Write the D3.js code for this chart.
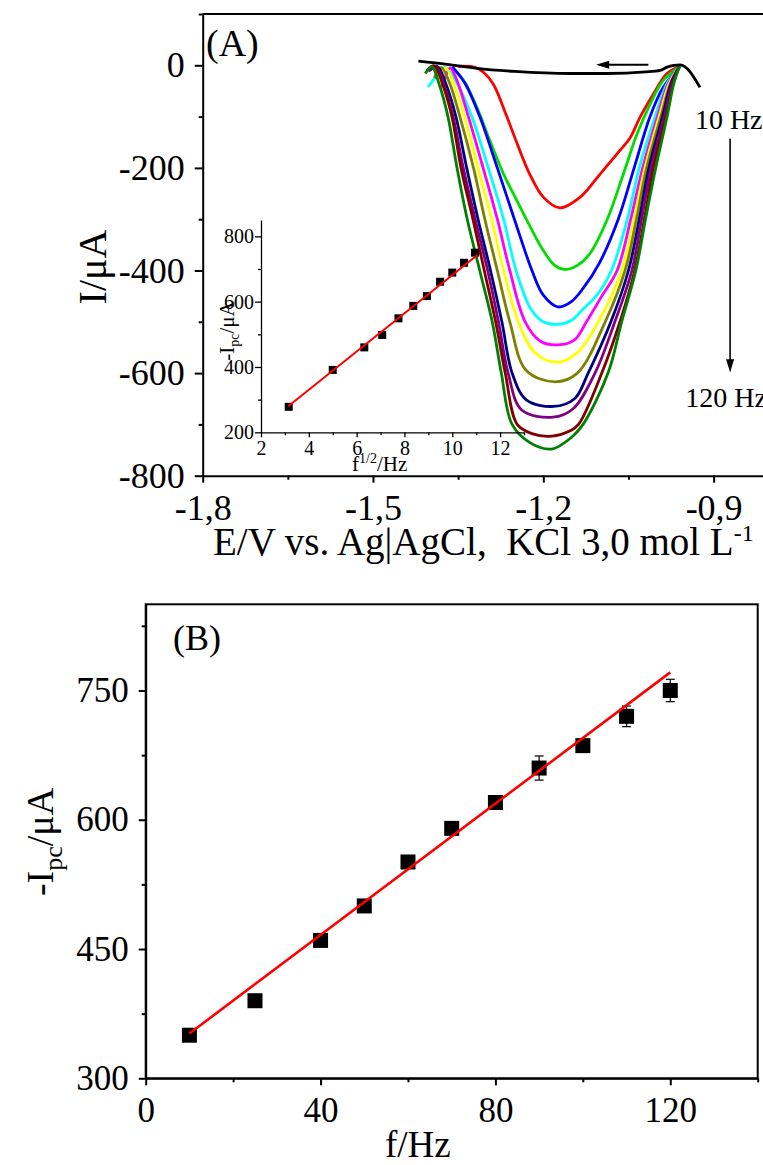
<!DOCTYPE html>
<html lang="en">
<head>
  <meta charset="UTF-8">
  <title>SWV frequency study</title>
  <script src="https://d3js.org/d3.v7.min.js"></script>
  <style>
    body { background: #fff; margin: 0; }
    svg { display: block; font-family: "Liberation Serif", "Times New Roman", serif; }
    .axis path, .axis line { stroke: #000; stroke-width: 2; }
    .axis text { fill: #000; font-family: "Liberation Serif", "Times New Roman", serif; }
    .minor path { display: none; }
  </style>
</head>
<body>
<svg width="763" height="1165"></svg>
<script>
// ---- data ----
const freqs = [10, 25, 40, 50, 60, 70, 80, 90, 100, 110, 120];
const curveColors = ["#ff0000", "#00dd00", "#0000ff", "#00ffff", "#ff00ff", "#ffff00",
                     "#808000", "#000080", "#800080", "#800000", "#008000"];

// voltammograms, [E (V), I (uA)]
const c10 = [[-1.350,-2],[-1.320,-4],[-1.305,-14],[-1.288,-37],[-1.266,-95],[-1.246,-153],[-1.224,-212],[-1.200,-257],[-1.171,-278],[-1.135,-257],[-1.100,-212],[-1.065,-166],[-1.047,-141],[-1.030,-102],[-1.006,-56],[-0.983,-17],[-0.960,-2]];
const c25 = [[-1.362,-4],[-1.340,-30],[-1.317,-82],[-1.294,-147],[-1.270,-212],[-1.247,-263],[-1.223,-315],[-1.200,-361],[-1.180,-390],[-1.162,-398],[-1.140,-390],[-1.118,-367],[-1.088,-302],[-1.059,-212],[-1.035,-134],[-1.012,-76],[-0.989,-30],[-0.960,-2]];
const c40 = [[-1.360,-3],[-1.338,-35],[-1.312,-100],[-1.281,-200],[-1.251,-300],[-1.220,-400],[-1.200,-448],[-1.174,-471],[-1.150,-460],[-1.130,-435],[-1.101,-385],[-1.068,-300],[-1.040,-200],[-1.012,-100],[-0.990,-45],[-0.960,-2]];
const c50 = [[-1.403,-42],[-1.388,-21],[-1.372,-4],[-1.352,-35],[-1.326,-100],[-1.297,-200],[-1.270,-300],[-1.248,-400],[-1.222,-475],[-1.200,-500],[-1.174,-505],[-1.150,-497],[-1.130,-475],[-1.107,-450],[-1.080,-400],[-1.052,-300],[-1.031,-200],[-1.003,-100],[-0.982,-35],[-0.960,-2]];
const c60 = [[-1.379,-43],[-1.373,-24],[-1.364,-5],[-1.352,-30],[-1.332,-100],[-1.306,-200],[-1.281,-300],[-1.259,-400],[-1.232,-500],[-1.205,-538],[-1.174,-545],[-1.145,-535],[-1.124,-500],[-1.097,-450],[-1.070,-400],[-1.046,-300],[-1.025,-200],[-0.999,-100],[-0.980,-35],[-0.960,-2]];
const c70 = [[-1.385,-25],[-1.372,-5],[-1.358,-35],[-1.339,-100],[-1.315,-200],[-1.291,-300],[-1.270,-400],[-1.244,-500],[-1.215,-560],[-1.176,-579],[-1.140,-560],[-1.103,-500],[-1.062,-400],[-1.040,-300],[-1.021,-200],[-0.996,-100],[-0.978,-35],[-0.960,-2]];
const c80 = [[-1.392,-25],[-1.380,-4],[-1.365,-35],[-1.347,-100],[-1.323,-200],[-1.303,-300],[-1.281,-400],[-1.259,-500],[-1.230,-595],[-1.179,-617],[-1.140,-600],[-1.091,-500],[-1.056,-400],[-1.036,-300],[-1.018,-200],[-0.993,-100],[-0.976,-35],[-0.960,-2]];
const c90 = [[-1.400,-10],[-1.387,-2],[-1.372,-35],[-1.354,-100],[-1.335,-200],[-1.315,-300],[-1.293,-400],[-1.273,-500],[-1.255,-600],[-1.230,-652],[-1.182,-665],[-1.145,-650],[-1.121,-600],[-1.081,-500],[-1.050,-400],[-1.031,-300],[-1.014,-200],[-0.990,-100],[-0.975,-35],[-0.960,-2]];
const c100 = [[-1.402,-12],[-1.390,-2],[-1.376,-35],[-1.359,-100],[-1.341,-200],[-1.320,-300],[-1.298,-400],[-1.279,-500],[-1.262,-600],[-1.238,-672],[-1.183,-686],[-1.148,-670],[-1.109,-600],[-1.074,-500],[-1.044,-400],[-1.027,-300],[-1.010,-200],[-0.987,-100],[-0.973,-35],[-0.960,-2]];
const c110 = [[-1.405,-10],[-1.392,-1],[-1.378,-35],[-1.361,-100],[-1.345,-200],[-1.324,-300],[-1.304,-400],[-1.284,-500],[-1.267,-600],[-1.246,-700],[-1.220,-718],[-1.185,-723],[-1.152,-712],[-1.138,-700],[-1.097,-600],[-1.065,-500],[-1.039,-400],[-1.022,-300],[-1.006,-200],[-0.984,-100],[-0.971,-35],[-0.960,-2]];
const c120 = [[-1.408,-16],[-1.396,-3],[-1.384,-35],[-1.368,-100],[-1.352,-200],[-1.334,-300],[-1.312,-400],[-1.290,-500],[-1.274,-600],[-1.255,-700],[-1.223,-736],[-1.185,-748],[-1.150,-725],[-1.130,-700],[-1.086,-600],[-1.062,-500],[-1.037,-400],[-1.020,-300],[-1.002,-200],[-0.982,-100],[-0.970,-35],[-0.960,-2]];
const curves = [c10, c25, c40, c50, c60, c70, c80, c90, c100, c110, c120];

// black background / return scan
const baseCurve = [[-1.420,8],[-1.370,2],[-1.317,-6],[-1.250,-12],[-1.153,-16],[-1.088,-16],[-1.020,-13],[-0.994,-10],[-0.983,-4],[-0.970,0],[-0.959,1],[-0.924,-43]];

// inset: -Ipc vs f^1/2
const sqrtF = [3.16, 5.00, 6.32, 7.07, 7.75, 8.37, 8.94, 9.49, 10.00, 10.49, 10.95];
const ipcInset = [278, 391, 460, 498, 549, 587, 617, 661, 689, 719, 750];
const fitInset = [[3.14, 280], [11.05, 743]];

// panel B: -Ipc vs f
const ipcB = [350, 390, 460, 500, 551, 590, 620, 660, 686, 720, 750];
const errB = [3, 3, 3, 3, 4, 4, 3, 14, 4, 12, 13];
const fitB = [[10, 352], [120, 771]];

// tick values
const xTicksA = [-1.8, -1.5, -1.2, -0.9], xMinorA = [-1.65, -1.35, -1.05, -0.75];
const yTicksA = [0, -200, -400, -600, -800], yMinorA = [100, -100, -300, -500, -700];
const xTicksIn = [2, 4, 6, 8, 10, 12], xMinorIn = [3, 5, 7, 9, 11, 13];
const yTicksIn = [200, 400, 600, 800], yMinorIn = [300, 500, 700];
const xTicksB = [0, 40, 80, 120], xMinorB = [20, 60, 100, 140];
const yTicksB = [300, 450, 600, 750], yMinorB = [375, 525, 675, 825];

const svg = d3.select("svg");
const comma = d => (d < 0 ? "-" : "") + Math.abs(d).toFixed(1).replace(".", ",");
const intFmt = d => (d < 0 ? "-" : "") + Math.abs(d);

function addAxis(g, axis, cls, fontSize) {
  g.attr("class", "axis " + (cls || "")).call(axis);
  g.selectAll("text").style("font-size", fontSize + "px");
  return g;
}

// ================= Panel A =================
const xA = d3.scaleLinear().domain([-1.8, -0.8]).range([202.7, 770.4]);
const yA = d3.scaleLinear().domain([-800, 100]).range([475.7, 14]);

// frame top
svg.append("line").attr("x1", xA(-1.8)).attr("x2", xA(-0.8))
  .attr("y1", yA(100)).attr("y2", yA(100)).attr("stroke", "#000").attr("stroke-width", 2);

addAxis(svg.append("g").attr("transform", `translate(0,${yA(-800)})`),
  d3.axisBottom(xA).tickValues(xTicksA).tickFormat(comma).tickSize(7).tickSizeOuter(0).tickPadding(12), "", 36);
addAxis(svg.append("g").attr("transform", `translate(0,${yA(-800)})`),
  d3.axisBottom(xA).tickValues(xMinorA).tickFormat("").tickSize(4), "minor", 1);
addAxis(svg.append("g").attr("transform", `translate(${xA(-1.8)},0)`),
  d3.axisLeft(yA).tickValues(yTicksA).tickFormat(intFmt).tickSize(8).tickSizeOuter(0).tickPadding(10), "", 36);
addAxis(svg.append("g").attr("transform", `translate(${xA(-1.8)},0)`),
  d3.axisLeft(yA).tickValues(yMinorA).tickFormat("").tickSize(4), "minor", 1);

// axis titles
svg.append("text").attr("transform", "translate(106,267) rotate(-90)")
  .attr("text-anchor", "middle").style("font-size", "40px").text("I/μA");
const xt = svg.append("text").attr("x", 213).attr("y", 555)
  .style("font-size", "39px").style("white-space", "pre");
xt.append("tspan").text("E/V vs. Ag|AgCl,  KCl 3,0 mol L");
xt.append("tspan").attr("dy", -14).style("font-size", "24px").text("-1");

svg.append("text").attr("x", 206).attr("y", 56).style("font-size", "38px").text("(A)");

// voltammograms
const lineA = d3.line().x(d => xA(d[0])).y(d => yA(d[1])).curve(d3.curveCatmullRom.alpha(0.5));
svg.append("g").selectAll("path").data(curves).join("path")
  .attr("d", lineA)
  .attr("fill", "none")
  .attr("stroke", (d, i) => curveColors[i])
  .attr("stroke-width", 2.8);

svg.append("path").datum(baseCurve)
  .attr("d", d3.line().x(d => xA(d[0])).y(d => yA(d[1])).curve(d3.curveMonotoneX))
  .attr("fill", "none").attr("stroke", "#000").attr("stroke-width", 2.8);

// scan direction arrow
const arY = yA(1);
svg.append("line").attr("x1", xA(-1.015)).attr("x2", xA(-1.085))
  .attr("y1", arY).attr("y2", arY).attr("stroke", "#000").attr("stroke-width", 2);
svg.append("path")
  .attr("d", `M${xA(-1.107)},${arY} L${xA(-1.084)},${arY - 4} L${xA(-1.084)},${arY + 4} Z`)
  .attr("fill", "#000");

// frequency arrow + labels
const fx = xA(-0.871);
svg.append("line").attr("x1", fx).attr("x2", fx)
  .attr("y1", yA(-143)).attr("y2", yA(-575)).attr("stroke", "#000").attr("stroke-width", 1.6);
svg.append("path")
  .attr("d", `M${fx},${yA(-599)} L${fx - 4},${yA(-573)} L${fx + 4},${yA(-573)} Z`)
  .attr("fill", "#000");
svg.append("text").attr("x", xA(-0.933)).attr("y", yA(-124)).style("font-size", "28px")
  .text(freqs[0] + " Hz");
svg.append("text").attr("x", xA(-0.950)).attr("y", yA(-667)).style("font-size", "28px")
  .text(freqs[freqs.length - 1] + " Hz");

// ================= Inset =================
const xIn = d3.scaleLinear().domain([2, 13]).range([261, 524]);
const yIn = d3.scaleLinear().domain([200, 850]).range([432.3, 220]);

const inset = svg.append("g");
addAxis(inset.append("g").attr("transform", `translate(0,${yIn(200)})`),
  d3.axisBottom(xIn).tickValues(xTicksIn).tickSize(5).tickSizeOuter(0).tickPadding(4), "", 20)
  .selectAll("path, line").style("stroke-width", 1.3);
addAxis(inset.append("g").attr("transform", `translate(0,${yIn(200)})`),
  d3.axisBottom(xIn).tickValues(xMinorIn).tickFormat("").tickSize(3), "minor", 1)
  .selectAll("line").style("stroke-width", 1.3);
addAxis(inset.append("g").attr("transform", `translate(${xIn(2)},0)`),
  d3.axisLeft(yIn).tickValues(yTicksIn).tickSize(6).tickSizeOuter(0).tickPadding(1), "", 20)
  .selectAll("path, line").style("stroke-width", 1.3);
addAxis(inset.append("g").attr("transform", `translate(${xIn(2)},0)`),
  d3.axisLeft(yIn).tickValues(yMinorIn).tickFormat("").tickSize(3), "minor", 1)
  .selectAll("line").style("stroke-width", 1.3);

inset.selectAll("rect.pt").data(sqrtF).join("rect")
  .attr("x", d => xIn(d) - 4).attr("y", (d, i) => yIn(ipcInset[i]) - 4)
  .attr("width", 8).attr("height", 8).attr("fill", "#000");
inset.append("path").datum(fitInset)
  .attr("d", d3.line().x(d => xIn(d[0])).y(d => yIn(d[1])))
  .attr("stroke", "#ff0000").attr("stroke-width", 2).attr("fill", "none");

const it = inset.append("text").attr("x", 352).attr("y", 471).style("font-size", "21px");
it.append("tspan").text("f");
it.append("tspan").attr("dy", -8).style("font-size", "14px").text("1/2");
it.append("tspan").attr("dy", 8).text("/Hz");

const iy = inset.append("text").attr("transform", "translate(234,331) rotate(-90)")
  .attr("text-anchor", "middle").style("font-size", "21px");
iy.append("tspan").text("-I");
iy.append("tspan").attr("dy", 5).style("font-size", "14px").text("pc");
iy.append("tspan").attr("dy", -5).text("/μA");

// ================= Panel B =================
const xB = d3.scaleLinear().domain([0, 140]).range([145.7, 757.7]);
const yB = d3.scaleLinear().domain([300, 850]).range([1078.3, 604.3]);

svg.append("rect").attr("x", xB(0)).attr("y", yB(850))
  .attr("width", xB(140) - xB(0)).attr("height", yB(300) - yB(850))
  .attr("fill", "none").attr("stroke", "#000").attr("stroke-width", 2);

addAxis(svg.append("g").attr("transform", `translate(0,${yB(300)})`),
  d3.axisBottom(xB).tickValues(xTicksB).tickSize(7).tickSizeOuter(0).tickPadding(11.5), "", 35);
addAxis(svg.append("g").attr("transform", `translate(0,${yB(300)})`),
  d3.axisBottom(xB).tickValues(xMinorB).tickFormat("").tickSize(4), "minor", 1);
addAxis(svg.append("g").attr("transform", `translate(${xB(0)},0)`),
  d3.axisLeft(yB).tickValues(yTicksB).tickSize(7).tickSizeOuter(0).tickPadding(10), "", 35);
addAxis(svg.append("g").attr("transform", `translate(${xB(0)},0)`),
  d3.axisLeft(yB).tickValues(yMinorB).tickFormat("").tickSize(4), "minor", 1);

svg.append("text").attr("x", 173).attr("y", 650).style("font-size", "36px").text("(B)");
svg.append("text").attr("x", 385).attr("y", 1157).style("font-size", "37px").text("f/Hz");

const by = svg.append("text").attr("transform", "translate(53,842) rotate(-90)")
  .attr("text-anchor", "middle").style("font-size", "38px");
by.append("tspan").text("-I");
by.append("tspan").attr("dy", 9).style("font-size", "26px").text("pc");
by.append("tspan").attr("dy", -9).text("/μA");

// error bars
const eb = svg.append("g").attr("stroke", "#000").attr("stroke-width", 1.2);
freqs.forEach((f, i) => {
  const x = xB(f), y0 = yB(ipcB[i] - errB[i]), y1 = yB(ipcB[i] + errB[i]);
  eb.append("line").attr("x1", x).attr("x2", x).attr("y1", y0).attr("y2", y1);
  eb.append("line").attr("x1", x - 4.5).attr("x2", x + 4.5).attr("y1", y0).attr("y2", y0);
  eb.append("line").attr("x1", x - 4.5).attr("x2", x + 4.5).attr("y1", y1).attr("y2", y1);
});

svg.append("g").selectAll("rect").data(freqs).join("rect")
  .attr("x", d => xB(d) - 7.5).attr("y", (d, i) => yB(ipcB[i]) - 7.5)
  .attr("width", 15).attr("height", 15).attr("fill", "#000");

svg.append("path").datum(fitB)
  .attr("d", d3.line().x(d => xB(d[0])).y(d => yB(d[1])))
  .attr("stroke", "#ff0000").attr("stroke-width", 2.6).attr("fill", "none");
</script>
</body>
</html>
